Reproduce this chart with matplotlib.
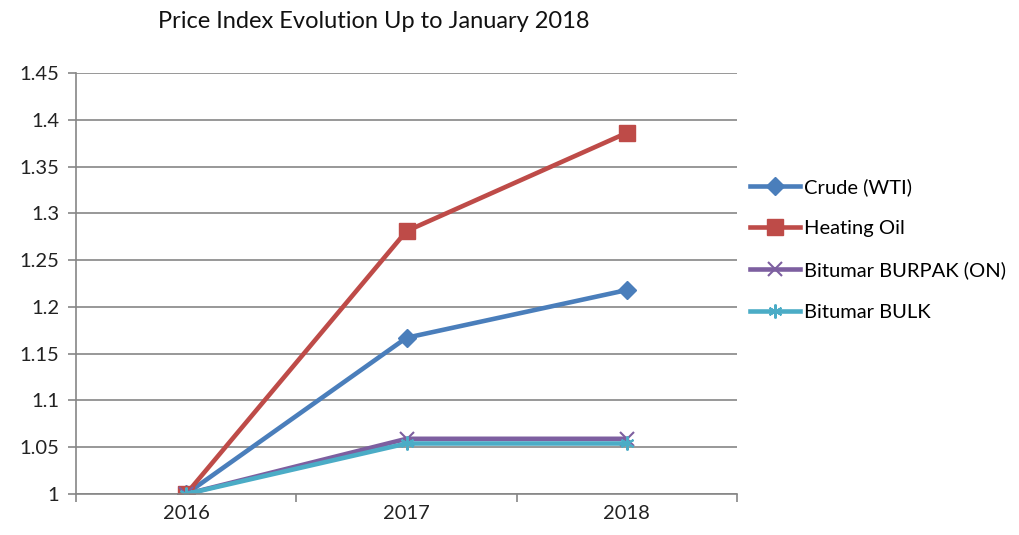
import matplotlib.pyplot as plt

plt.rcParams['font.family'] = ['Lato', 'DejaVu Sans']

# data
years = ['2016', '2017', '2018']
crude = [1.0, 1.167, 1.218]
heating = [1.0, 1.281, 1.386]
burpak = [1.0, 1.059, 1.059]
bulk = [1.0, 1.054, 1.054]

fig = plt.figure(figsize=(10.19, 5.35), dpi=100)
ax = fig.add_axes([76 / 1019, 41 / 535, 661 / 1019, 421 / 535])

x = range(len(years))
ax.plot(x, crude, color='#4A7EBB', lw=3.3, marker='D', ms=9, label='Crude (WTI)')
ax.plot(x, heating, color='#BE4B48', lw=3.3, marker='s', ms=11, label='Heating Oil')
ax.plot(x, burpak, color='#7D5FA0', lw=3.3, marker='x', ms=10, mew=1.5, label='Bitumar BURPAK (ON)')
ax.plot(x, bulk, color='#4BACC6', lw=3.3, marker=(6, 2, 0), ms=10, mew=1.5, label='Bitumar BULK')

ax.set_xlim(-0.5, 2.5)
ax.set_ylim(1.0, 1.45)
ax.set_xticks([-0.5, 0.5, 1.5, 2.5])
ax.set_xticklabels([])
ax.set_xticks(list(x), minor=True)
ax.set_xticklabels(years, minor=True)
ax.tick_params(axis='x', which='minor', length=0, labelsize=14.5, pad=8)
ax.tick_params(axis='x', which='major', length=6, width=1.2, color='#868686', direction='out')
yt = [1.0 + 0.05 * i for i in range(10)]
ax.set_yticks(yt)
ax.set_yticklabels(['1', '1.05', '1.1', '1.15', '1.2', '1.25', '1.3', '1.35', '1.4', '1.45'])
ax.tick_params(axis='y', length=6, width=1.2, color='#868686', labelsize=14.5, pad=6)
ax.grid(axis='y', color='#868686', lw=1.2)
ax.set_axisbelow(True)
for s in ['top', 'right']:
    ax.spines[s].set_visible(False)
for s in ['left', 'bottom']:
    ax.spines[s].set_color('#868686')
    ax.spines[s].set_linewidth(1.2)
for lbl in ax.get_xticklabels(minor=True) + ax.get_yticklabels():
    lbl.set_color('#222222')

fig.text(374 / 1019, 1 - 22 / 535, 'Price Index Evolution Up to January 2018',
         ha='center', va='center', fontsize=17, color='#111111')

fig.legend(loc='upper left', bbox_to_anchor=(742 / 1019, 1 - 170 / 535), frameon=False,
           fontsize=14.5, handlelength=2.5, labelspacing=1.2, handletextpad=0.2, borderaxespad=0)

fig.savefig('out.png', dpi=100)
